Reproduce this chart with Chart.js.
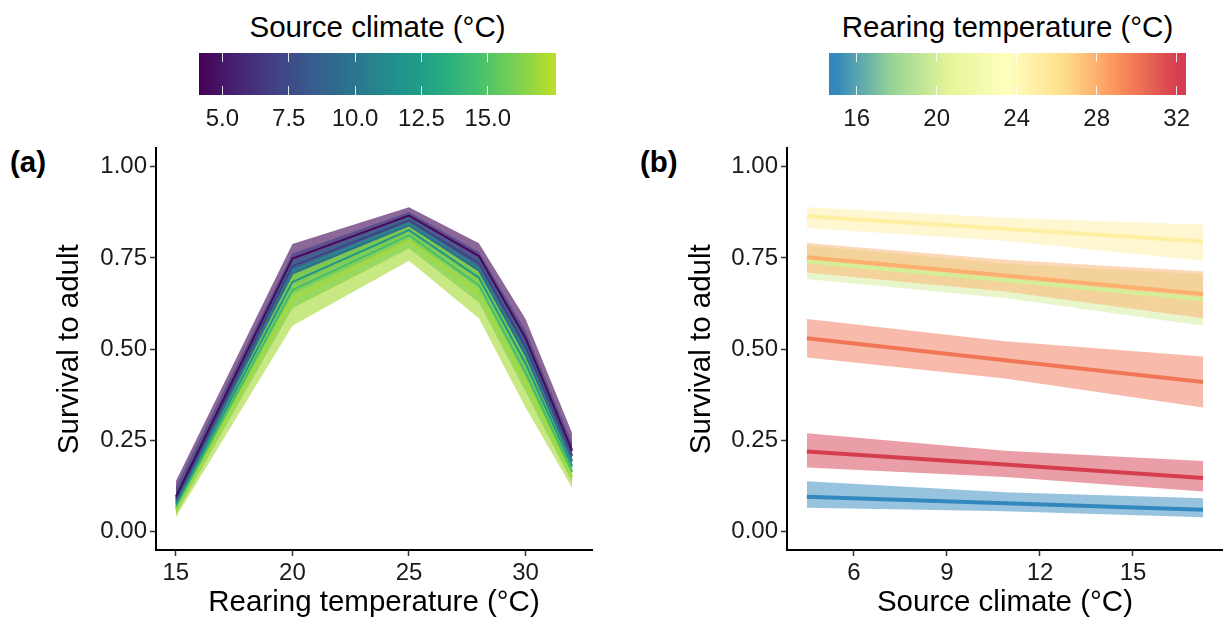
<!DOCTYPE html>
<html>
<head>
<meta charset="utf-8">
<title>Survival to adult</title>
<script src="https://cdn.jsdelivr.net/npm/chart.js@4.4.1/dist/chart.umd.min.js"></script>
<style>
  body { margin: 0; width: 1225px; height: 628px; background: #fff; position: relative; overflow: hidden;
         font-family: "Liberation Sans", Arial, Helvetica, sans-serif; color: #000; }
  .box { position: absolute; }
  .txt { position: absolute; white-space: nowrap; line-height: 1; }
  .panel-label { font-weight: bold; font-size: 29.5px; }
  .legend-title { font-size: 29.5px; transform: translateX(-50%); }
  .legend-label { font-size: 24px; transform: translateX(-50%); color: #1a1a1a; }
  .bar { position: absolute; }
  .bar-tick { position: absolute; width: 1px; background: rgba(255,255,255,0.85); }
</style>
</head>
<body>
<div class="txt panel-label" style="left:10px; top:147px;">(a)</div>
<div class="txt panel-label" style="left:640px; top:147px;">(b)</div>

<div class="box" style="left:0; top:130px; width:612px; height:498px;"><canvas id="chartA"></canvas></div>
<div class="box" style="left:612px; top:130px; width:613px; height:498px;"><canvas id="chartB"></canvas></div>

<script>
// ---- data ----
// panel (a): x = rearing temperature, one fitted line per source climate
const rearingTemps = [15, 20, 25, 28, 30, 32];
const sourceClimates = [4.5, 7, 9.5, 12, 14.5, 17];

const fitSc45 = [0.096, 0.748, 0.866, 0.755, 0.530, 0.222];
const loSc45  = [0.066, 0.700, 0.832, 0.710, 0.477, 0.176];
const hiSc45  = [0.138, 0.788, 0.889, 0.790, 0.583, 0.270];

const fitSc7 = [0.089, 0.728, 0.852, 0.736, 0.507, 0.208];
const loSc7  = [0.063, 0.690, 0.825, 0.700, 0.462, 0.172];
const hiSc7  = [0.122, 0.762, 0.876, 0.766, 0.551, 0.243];

const fitSc95 = [0.082, 0.708, 0.839, 0.716, 0.484, 0.193];
const loSc95  = [0.060, 0.675, 0.815, 0.688, 0.445, 0.166];
const hiSc95  = [0.110, 0.740, 0.862, 0.744, 0.524, 0.222];

const fitSc12 = [0.075, 0.684, 0.826, 0.696, 0.461, 0.179];
const loSc12  = [0.055, 0.650, 0.800, 0.667, 0.423, 0.155];
const hiSc12  = [0.102, 0.718, 0.850, 0.725, 0.500, 0.205];

const fitSc145 = [0.068, 0.662, 0.812, 0.675, 0.436, 0.164];
const loSc145  = [0.047, 0.612, 0.776, 0.628, 0.384, 0.134];
const hiSc145  = [0.097, 0.702, 0.842, 0.714, 0.488, 0.196];

const fitSc17 = [0.061, 0.638, 0.797, 0.653, 0.412, 0.150];
const loSc17  = [0.040, 0.564, 0.742, 0.585, 0.340, 0.120];
const hiSc17  = [0.092, 0.705, 0.841, 0.713, 0.480, 0.194];

// panel (b): x = source climate, one fitted line per rearing temperature
const climateX = [4.48, 10.87, 17.26];

const fitRt15 = [0.096, 0.078, 0.060];
const loRt15  = [0.066, 0.056, 0.040];
const hiRt15  = [0.138, 0.108, 0.092];

const fitRt20 = [0.740, 0.689, 0.637];
const loRt20  = [0.692, 0.640, 0.564];
const hiRt20  = [0.785, 0.735, 0.705];

const fitRt25 = [0.864, 0.830, 0.795];
const loRt25  = [0.832, 0.797, 0.742];
const hiRt25  = [0.889, 0.860, 0.841];

const fitRt28 = [0.752, 0.702, 0.651];
const loRt28  = [0.710, 0.658, 0.585];
const hiRt28  = [0.791, 0.745, 0.713];

const fitRt30 = [0.530, 0.470, 0.410];
const loRt30  = [0.477, 0.420, 0.340];
const hiRt30  = [0.583, 0.522, 0.480];

const fitRt32 = [0.220, 0.184, 0.147];
const loRt32  = [0.176, 0.150, 0.110];
const hiRt32  = [0.270, 0.222, 0.194];

// axis / legend ticks
const yTicks = [0, 0.25, 0.5, 0.75, 1];
const xTicksA = [15, 20, 25, 30];
const xTicksB = [6, 9, 12, 15];
const climateLegendTicks = [5, 7.5, 10, 12.5, 15];
const rearingLegendTicks = [16, 20, 24, 28, 32];

// ---- colours ----
const viridisStops = ['#440154', '#482475', '#414487', '#355f8d', '#2a788e', '#21918c',
                      '#22a884', '#44bf70', '#7ad151', '#bddf26', '#fde725'];
const spectralStops = ['#3288bd', '#99d594', '#e6f598', '#ffffbf', '#fee08b', '#fc8d59', '#d53e4f'];

function hexToRgb(h) {
    return [parseInt(h.slice(1, 3), 16), parseInt(h.slice(3, 5), 16), parseInt(h.slice(5, 7), 16)];
}

function ramp(stops, p) {
    p = Math.max(0, Math.min(1, p));
    const n = stops.length - 1;
    const i = Math.min(Math.floor(p * n), n - 1);
    const f = p * n - i;
    const a = hexToRgb(stops[i]), b = hexToRgb(stops[i + 1]);
    return a.map((v, k) => Math.round(v + (b[k] - v) * f));
}

function rgba(c, a) {
    return `rgba(${c[0]}, ${c[1]}, ${c[2]}, ${a})`;
}

const climateLims = [4.13, 17.56];
const rearingLims = [14.63, 32.45];

function climateColour(v) {
    return ramp(viridisStops, 0.9 * (v - climateLims[0]) / (climateLims[1] - climateLims[0]));
}

function rearingColour(v) {
    return ramp(spectralStops, (v - 15) / 17);
}

// ---- chart helpers ----
const family = '"Liberation Sans", Arial, Helvetica, sans-serif';
Chart.defaults.font.family = family;
Chart.defaults.color = '#1a1a1a';

function bandDatasets(xs, fit, lo, hi, colour, lineWidth, alpha, bandOrder) {
    const pts = arr => xs.map((x, i) => ({ x: x, y: arr[i] }));
    return [
        { data: pts(hi), fill: '+1', backgroundColor: rgba(colour, alpha), borderColor: 'rgba(0,0,0,0)',
          borderWidth: 0, pointRadius: 0, order: bandOrder },
        { data: pts(lo), fill: false, borderColor: 'rgba(0,0,0,0)', borderWidth: 0, pointRadius: 0, order: bandOrder },
        { data: pts(fit), fill: false, borderColor: rgba(colour, 1), borderWidth: lineWidth, pointRadius: 0, order: 0 }
    ];
}

function yAxis(width, titlePad) {
    return {
        type: 'linear',
        min: -0.05,
        max: 1.05,
        afterBuildTicks: s => { s.ticks = yTicks.map(v => ({ value: v })); },
        afterFit: s => { s.width = width; },
        ticks: { callback: v => v.toFixed(2), font: { size: 24 }, color: '#1a1a1a', padding: 3 },
        grid: { drawOnChartArea: false, drawTicks: true, tickLength: 6, tickColor: '#333', tickWidth: 1.5 },
        border: { display: true, color: '#000', width: 2 },
        title: { display: true, text: 'Survival to adult', font: { size: 29.5 }, color: '#000',
                 padding: { top: titlePad, bottom: 0 } }
    };
}

function xAxis(min, max, ticks, title) {
    return {
        type: 'linear',
        min: min,
        max: max,
        afterBuildTicks: s => { s.ticks = ticks.map(v => ({ value: v })); },
        afterFit: s => { s.height = 78; },
        ticks: { font: { size: 24 }, color: '#1a1a1a', padding: 3, maxRotation: 0 },
        grid: { drawOnChartArea: false, drawTicks: true, tickLength: 6, tickColor: '#333', tickWidth: 1.5 },
        border: { display: true, color: '#000', width: 2 },
        title: { display: true, text: title, font: { size: 29.5 }, color: '#000',
                 padding: { top: 0, bottom: 7 } }
    };
}

function baseOptions(padding, xScale, yScale) {
    return {
        responsive: true,
        maintainAspectRatio: false,
        devicePixelRatio: 1,
        animation: false,
        layout: { padding: padding },
        elements: { line: { tension: 0 } },
        plugins: { legend: { display: false }, tooltip: { enabled: false } },
        scales: { x: xScale, y: yScale }
    };
}

// ---- panel (a) ----
const fitsA = [fitSc45, fitSc7, fitSc95, fitSc12, fitSc145, fitSc17];
const losA = [loSc45, loSc7, loSc95, loSc12, loSc145, loSc17];
const hisA = [hiSc45, hiSc7, hiSc95, hiSc12, hiSc145, hiSc17];

let datasetsA = [];
sourceClimates.forEach((sc, i) => {
    datasetsA = datasetsA.concat(
        bandDatasets(rearingTemps, fitsA[i], losA[i], hisA[i], climateColour(sc), 2, 0.62, 100 - i));
});

new Chart(document.getElementById('chartA'), {
    type: 'line',
    data: { datasets: datasetsA },
    options: baseOptions({ top: 18.4, right: 20, left: 0, bottom: 0 },
        xAxis(14.15, 32.85, xTicksA, 'Rearing temperature (°C)'),
        yAxis(156, 52))
});

// ---- panel (b) ----
const panelBTemps = [15, 20, 25, 28, 30, 32];
const fitsB = [fitRt15, fitRt20, fitRt25, fitRt28, fitRt30, fitRt32];
const losB = [loRt15, loRt20, loRt25, loRt28, loRt30, loRt32];
const hisB = [hiRt15, hiRt20, hiRt25, hiRt28, hiRt30, hiRt32];

let datasetsB = [];
panelBTemps.forEach((rt, i) => {
    datasetsB = datasetsB.concat(
        bandDatasets(climateX, fitsB[i], losB[i], hisB[i], rearingColour(rt), 4, 0.5, 100 - i));
});

new Chart(document.getElementById('chartB'), {
    type: 'line',
    data: { datasets: datasetsB },
    options: baseOptions({ top: 18.4, right: 2.1, left: 0, bottom: 0 },
        xAxis(3.84, 17.9, xTicksB, 'Source climate (°C)'),
        yAxis(175, 72))
});

// ---- colour bar legends ----
function colourBar(opts) {
    const { left, top, width, height, lims, ticks, fmt, colourAt, title } = opts;
    const steps = 40;
    const stops = [];
    for (let k = 0; k <= steps; k++) {
        const v = lims[0] + (lims[1] - lims[0]) * k / steps;
        stops.push(`${rgba(colourAt(v), 1)} ${(100 * k / steps).toFixed(2)}%`);
    }
    const bar = document.createElement('div');
    bar.className = 'bar';
    Object.assign(bar.style, {
        left: left + 'px', top: top + 'px', width: width + 'px', height: height + 'px',
        background: `linear-gradient(to right, ${stops.join(', ')})`
    });
    document.body.appendChild(bar);

    ticks.forEach(t => {
        const x = (t - lims[0]) / (lims[1] - lims[0]) * width;
        [0, height - 9].forEach(y0 => {
            const tk = document.createElement('div');
            tk.className = 'bar-tick';
            Object.assign(tk.style, { left: (x - 0.5) + 'px', top: y0 + 'px', height: '9px' });
            bar.appendChild(tk);
        });
        const lab = document.createElement('div');
        lab.className = 'txt legend-label';
        lab.textContent = fmt(t);
        Object.assign(lab.style, { left: (left + x) + 'px', top: '105.7px' });
        document.body.appendChild(lab);
    });

    const ttl = document.createElement('div');
    ttl.className = 'txt legend-title';
    ttl.textContent = title;
    Object.assign(ttl.style, { left: (left + width / 2) + 'px', top: '11.7px' });
    document.body.appendChild(ttl);
}

colourBar({ left: 199.3, top: 52.7, width: 356.4, height: 42.3, lims: climateLims,
            ticks: climateLegendTicks, fmt: v => v.toFixed(1), colourAt: climateColour,
            title: 'Source climate (°C)' });
colourBar({ left: 829.3, top: 52.7, width: 356.4, height: 42.3, lims: rearingLims,
            ticks: rearingLegendTicks, fmt: v => String(v), colourAt: rearingColour,
            title: 'Rearing temperature (°C)' });
</script>
</body>
</html>
